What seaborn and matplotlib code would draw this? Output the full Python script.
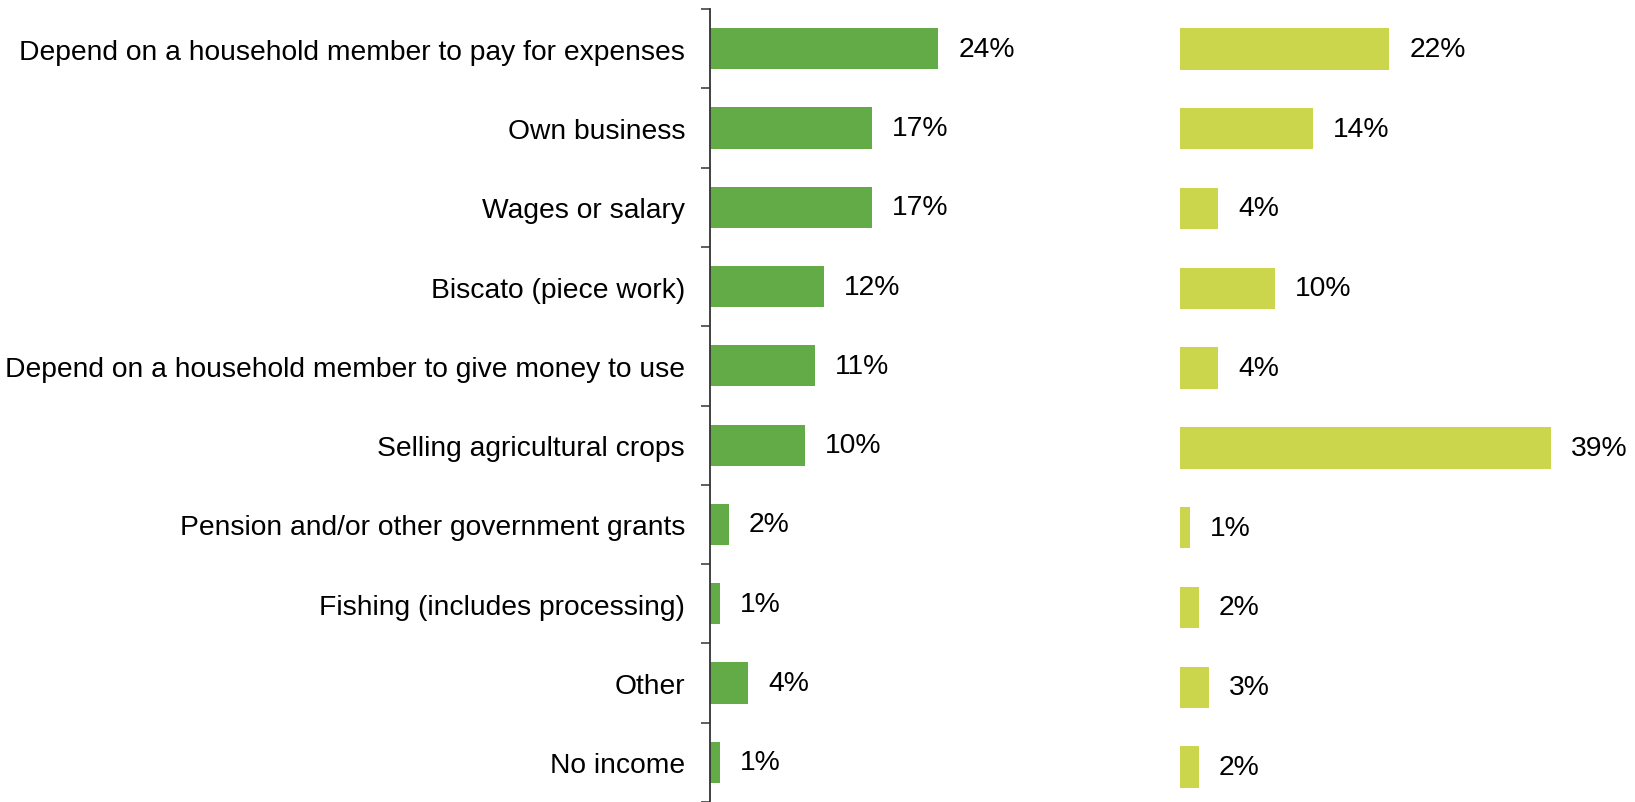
import matplotlib
matplotlib.use("Agg")
import matplotlib.pyplot as plt
import seaborn as sns
import pandas as pd
import numpy as np

categories = [
    "Depend on a household member to pay for expenses",
    "Own business",
    "Wages or salary",
    "Biscato (piece work)",
    "Depend on a household member to give money to use",
    "Selling agricultural crops",
    "Pension and/or other government grants",
    "Fishing (includes processing)",
    "Other",
    "No income",
]
series_a = [24, 17, 17, 12, 11, 10, 2, 1, 4, 1]
series_b = [22, 14, 4, 10, 4, 39, 1, 2, 3, 2]

green = "#63AB47"
lime = "#CBD64C"

sns.set_theme(style="white")
plt.rcParams["font.family"] = ["Liberation Sans", "DejaVu Sans"]

W, H, DPI = 1635, 803, 100
fig = plt.figure(figsize=(W / DPI, H / DPI), dpi=DPI)

px_per_pct = 9.52
ax_left = 710
ax2_left = 1180
top_px = 10
height = (H - top_px) / H

ax1 = fig.add_axes([ax_left / W, 0.0, (ax2_left - ax_left) / W, height])
ax2 = fig.add_axes([ax2_left / W, 0.0, (W - ax2_left) / W, height])

df = pd.DataFrame({"cat": categories, "a": series_a, "b": series_b})

n = len(categories)
ylim = (-0.5 + (H - top_px) / 79.8, -0.5)
fs = 20.3

for ax, col, color in [(ax1, "a", green), (ax2, "b", lime)]:
    sns.barplot(data=df, y="cat", x=col, color=color, orient="h",
                width=0.52, ax=ax, saturation=1, edgecolor="none")
    ax.set_ylim(*ylim)
    width_px = (ax2_left - ax_left) if ax is ax1 else (W - ax2_left)
    ax.set_xlim(0, width_px / px_per_pct)
    ax.set_xlabel("")
    ax.set_ylabel("")
    ax.set_xticks([])
    for c in ax.containers:
        ax.bar_label(c, labels=[f"{v}%" for v in df[col]], padding=14.4,
                     fontsize=fs, color="black")
    for s in ["top", "right", "bottom"]:
        ax.spines[s].set_visible(False)

ax1.spines["left"].set_color("#333333")
ax1.spines["left"].set_linewidth(1.3)
ax1.set_yticks(range(n))
ax1.set_yticklabels(categories, fontsize=fs, color="black")
ax1.tick_params(axis="y", which="major", length=0, pad=18)
ax1.set_yticks(np.arange(-0.5, n, 1.0), minor=True)
ax1.tick_params(axis="y", which="minor", left=True, length=6.5, width=1.1,
                color="#333333")

ax2.spines["left"].set_visible(False)
ax2.set_yticks([])

fig.savefig("out.png", dpi=DPI, facecolor="white")
